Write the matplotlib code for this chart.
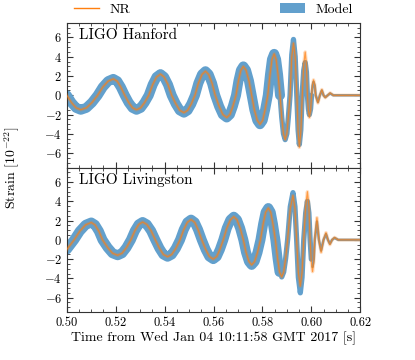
import numpy as np
import matplotlib
matplotlib.use('Agg')
import matplotlib.pyplot as plt
from matplotlib.lines import Line2D
from matplotlib.patches import Patch
from matplotlib.ticker import MultipleLocator

plt.rcParams['font.family'] = 'serif'
plt.rcParams['font.serif'] = ['cmr10']
plt.rcParams['mathtext.fontset'] = 'cm'
plt.rcParams['axes.formatter.use_mathtext'] = True
plt.rcParams['axes.unicode_minus'] = False

# Hanford: time [s], NR strain and model median [1e-22]
t_h = [0.5000, 0.5019, 0.5038, 0.5057, 0.5080, 0.5103, 0.5126,
       0.5147, 0.5169, 0.5190, 0.5206, 0.5221, 0.5237,
       0.5253, 0.5269, 0.5285, 0.5302, 0.5318, 0.5335,
       0.5351, 0.5367, 0.5383, 0.5398, 0.5414, 0.5429,
       0.5446, 0.5462, 0.5479, 0.5494, 0.5509, 0.5524,
       0.5538, 0.5553, 0.5567, 0.5580, 0.5594, 0.5607,
       0.5623, 0.5638, 0.5654, 0.5667, 0.5679, 0.5692,
       0.5702, 0.5712, 0.5722, 0.5733, 0.5745, 0.5756,
       0.5767, 0.5779, 0.5790, 0.5801, 0.5811, 0.5822,
       0.5831, 0.5839, 0.5848, 0.5856, 0.5864, 0.5872,
       0.5879, 0.5886, 0.5893, 0.5900, 0.5906, 0.5913,
       0.5920, 0.5927, 0.5934, 0.5941,
       0.5946, 0.5951, 0.5957, 0.5963,
       0.5969, 0.5975, 0.5980, 0.5984,
       0.5988, 0.5992, 0.5997, 0.6001,
       0.6005, 0.6009, 0.6014, 0.6018,
       0.6027, 0.6035, 0.6043, 0.6050, 0.6057, 0.6067, 0.6077, 0.6090, 0.6200]
nr_h = [0.00, -0.75, -1.30, -1.50, -1.30, -0.75, 0.00,
        0.85, 1.47, 1.70, 1.47, 0.85, 0.00,
        -0.75, -1.30, -1.50, -1.30, -0.75, 0.00,
        1.10, 1.90, 2.20, 1.90, 1.10, 0.00,
        -0.90, -1.56, -1.80, -1.56, -0.90, 0.00,
        1.25, 2.17, 2.50, 2.17, 1.25, 0.00,
        -1.15, -1.99, -2.30, -1.99, -1.15, 0.00,
        1.50, 2.60, 3.00, 2.60, 1.50, 0.00,
        -1.50, -2.60, -3.00, -2.60, -1.50, 0.00,
        2.15, 3.72, 4.30, 3.72, 2.15, 0.00,
        -2.30, -3.98, -4.60, -3.98, -2.30, 0.00,
        4.00, 5.40, 4.00, 0.00,
        -3.80, -5.40, -3.80, 0.00,
        3.20, 4.50, 3.20, 0.00,
        -1.60, -2.30, -1.60, 0.00,
        1.10, 1.60, 1.10, 0.00,
        -0.80, 0.00, 0.60, 0.00, -0.25, 0.00, 0.25, 0.00, 0.00]
model_h = [0.00, -0.75, -1.30, -1.50, -1.30, -0.75, 0.00,
           0.85, 1.47, 1.70, 1.47, 0.85, 0.00,
           -0.75, -1.30, -1.50, -1.30, -0.75, 0.00,
           1.10, 1.90, 2.20, 1.90, 1.10, 0.00,
           -0.90, -1.56, -1.80, -1.56, -0.90, 0.00,
           1.25, 2.17, 2.50, 2.17, 1.25, 0.00,
           -1.15, -1.99, -2.30, -1.99, -1.15, 0.00,
           1.50, 2.60, 3.00, 2.60, 1.50, 0.00,
           -1.50, -2.60, -3.00, -2.60, -1.50, 0.00,
           2.15, 3.72, 4.30, 3.72, 2.15, 0.00,
           -2.30, -3.98, -4.60, -3.98, -2.30, 0.00,
           4.20, 5.80, 4.00, -0.30,
           -3.60, -5.10, -3.60, 0.30,
           2.60, 3.40, 2.40, 0.00,
           -1.40, -2.00, -1.40, 0.00,
           1.00, 1.40, 1.00, 0.00,
           -0.70, 0.00, 0.50, 0.00, -0.20, 0.00, 0.20, 0.00, 0.00]

# Livingston
t_l = [0.5000, 0.5015, 0.5030,
       0.5053, 0.5077, 0.5100, 0.5115, 0.5131, 0.5146,
       0.5167, 0.5187, 0.5208, 0.5226, 0.5244, 0.5262,
       0.5278, 0.5294, 0.5310, 0.5327, 0.5345, 0.5362,
       0.5379, 0.5395, 0.5412, 0.5429, 0.5446, 0.5463,
       0.5478, 0.5493, 0.5508, 0.5523, 0.5537, 0.5552,
       0.5568, 0.5583, 0.5599, 0.5613, 0.5626, 0.5640,
       0.5654, 0.5669, 0.5683, 0.5696, 0.5709, 0.5722,
       0.5733, 0.5745, 0.5756, 0.5768, 0.5780, 0.5792,
       0.5803, 0.5813, 0.5824, 0.5834, 0.5843, 0.5853,
       0.5862, 0.5870, 0.5879, 0.5887, 0.5895, 0.5903,
       0.5914, 0.5925, 0.5933, 0.5940,
       0.5947, 0.5955, 0.5962, 0.5969,
       0.5977, 0.5984, 0.5990, 0.5995,
       0.6000, 0.6005, 0.6010, 0.6014,
       0.6023, 0.6031, 0.6040, 0.6050, 0.6060, 0.6068,
       0.6076, 0.6085, 0.6095, 0.6110, 0.6200]
nr_l = [-1.00, -0.50, 0.00,
        0.90, 1.56, 1.80, 1.56, 0.90, 0.00,
        -0.80, -1.39, -1.60, -1.39, -0.80, 0.00,
        0.93, 1.60, 1.85, 1.60, 0.93, 0.00,
        -0.88, -1.52, -1.75, -1.52, -0.88, 0.00,
        1.05, 1.82, 2.10, 1.82, 1.05, 0.00,
        -1.00, -1.73, -2.00, -1.73, -1.00, 0.00,
        1.20, 2.08, 2.40, 2.08, 1.20, 0.00,
        -1.30, -2.25, -2.60, -2.25, -1.30, 0.00,
        1.65, 2.86, 3.30, 2.86, 1.65, 0.00,
        -1.93, -3.33, -3.85, -3.33, -1.93, 0.00,
        3.25, 4.60, 3.25, 0.00,
        -3.40, -4.80, -3.40, 0.00,
        3.50, 5.00, 3.50, 0.00,
        -2.30, -3.30, -2.30, 0.00,
        2.30, 0.00, -1.30, 0.00, 0.75, 0.00,
        -0.50, 0.00, 0.25, 0.00, 0.00]
model_l = [-1.00, -0.50, 0.00,
           0.90, 1.56, 1.80, 1.56, 0.90, 0.00,
           -0.80, -1.39, -1.60, -1.39, -0.80, 0.00,
           0.93, 1.60, 1.85, 1.60, 0.93, 0.00,
           -0.88, -1.52, -1.75, -1.52, -0.88, 0.00,
           1.05, 1.82, 2.10, 1.82, 1.05, 0.00,
           -1.00, -1.73, -2.00, -1.73, -1.00, 0.00,
           1.20, 2.08, 2.40, 2.08, 1.20, 0.00,
           -1.30, -2.25, -2.60, -2.25, -1.30, 0.00,
           1.65, 2.86, 3.30, 2.86, 1.65, 0.00,
           -1.93, -3.33, -3.85, -3.33, -1.93, 0.00,
           3.45, 4.90, 3.45, 0.00,
           -3.90, -5.50, -3.90, 0.00,
           2.80, 4.00, 2.80, 0.00,
           -2.00, -2.80, -2.00, 0.00,
           1.90, 0.00, -1.10, 0.00, 0.60, 0.00,
           -0.40, 0.00, 0.20, 0.00, 0.00]

detectors = ['LIGO Hanford', 'LIGO Livingston']

BLUE = '#62a0cd'
ORANGE = '#ff7f0e'


def draw_panel(ax, t, nr, model, name):
    t = np.array(t)
    nr = np.array(nr)
    model = np.array(model)
    # model band: thick line, thinner after the merger
    phases = [(t <= 0.5873, 7.2), ((t >= 0.5872) & (t <= 0.6002), 3.8), (t >= 0.6001, 1.8)]
    for mask, lw in phases:
        ax.plot(t[mask], model[mask], color=BLUE, lw=lw,
                solid_capstyle='round', solid_joinstyle='round', zorder=2)
    ax.plot(t, nr, color=ORANGE, lw=2.5, alpha=0.25,
            solid_joinstyle='round', zorder=3)
    ax.plot(t, nr, color=ORANGE, lw=0.9, alpha=0.7, zorder=4)
    ax.text(0.04, 0.915, name, transform=ax.transAxes, fontsize=11,
            va='center', ha='left')
    ax.set_xlim(0.50, 0.62)
    ax.set_ylim(-7.5, 7.5)
    ax.set_yticks([-6, -4, -2, 0, 2, 4, 6])
    ax.xaxis.set_major_locator(MultipleLocator(0.02))
    ax.xaxis.set_minor_locator(MultipleLocator(0.005))
    ax.yaxis.set_minor_locator(MultipleLocator(0.5))
    ax.tick_params(which='both', direction='in', top=True, right=True,
                   labelsize=9, color='#333333')
    ax.tick_params(which='major', length=4)
    ax.tick_params(which='minor', length=2)
    for s in ax.spines.values():
        s.set_color('#333333')
        s.set_linewidth(0.8)


fig, axes = plt.subplots(2, 1, figsize=(4.15, 3.6), dpi=100, sharex=True)
fig.subplots_adjust(left=0.161, right=0.868, top=0.936, bottom=0.133, hspace=0)

draw_panel(axes[0], t_h, nr_h, model_h, detectors[0])
draw_panel(axes[1], t_l, nr_l, model_l, detectors[1])

axes[1].set_xticks([0.50, 0.52, 0.54, 0.56, 0.58, 0.60, 0.62])
axes[1].set_xticklabels(['0.50', '0.52', '0.54', '0.56', '0.58', '0.60', '0.62'])
axes[1].set_xlabel('Time from Wed Jan 04 10:11:58 GMT 2017 [s]', fontsize=10,
                   labelpad=2)

fig.text(0.03, 0.535, r'Strain [$10^{-22}$]', rotation=90, va='center',
         ha='center', fontsize=10)

handles = [Line2D([], [], color=ORANGE, lw=1.0),
           Patch(facecolor=BLUE, edgecolor='none')]
axes[0].legend(handles, ['NR', 'Model'], loc='lower left',
               bbox_to_anchor=(0.0, 1.0, 1.0, 0.12), mode='expand', ncol=2,
               frameon=False, fontsize=10, handlelength=1.8, borderaxespad=0.1)

fig.savefig('out.png', dpi=100)
